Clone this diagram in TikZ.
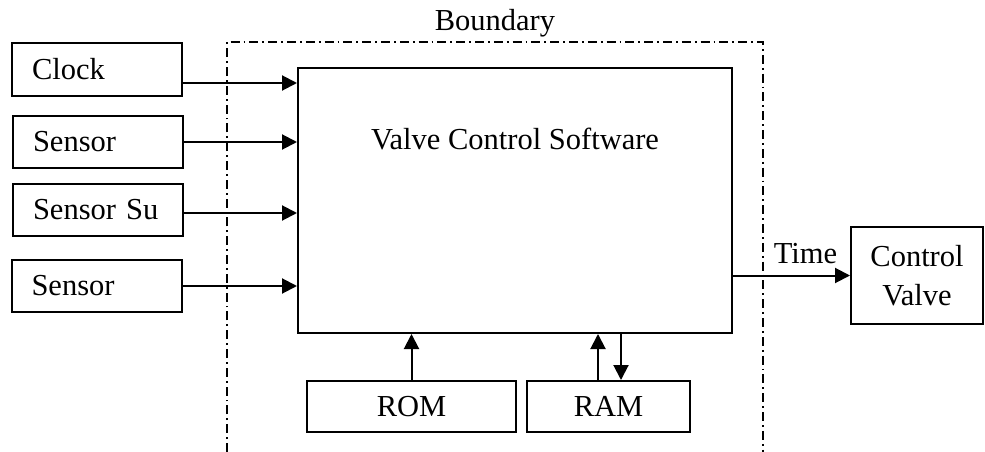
\documentclass[tikz,border=0pt]{standalone}
\usepackage{fontspec}
\setmainfont{Liberation Serif}
\usetikzlibrary{arrows.meta,calc}
\tikzset{
  blk/.style={draw, line width=2pt, rectangle, inner sep=0pt},
  srcbox/.style={blk, minimum width=170pt, minimum height=52pt,
                 text width=130pt, inner xsep=20pt, align=left},
  membox/.style={blk, minimum height=51pt},
  flow/.style={line width=2pt, -{Triangle[length=15pt,width=15pt]}},
  bound/.style={line width=1.7pt, dash pattern=on 9pt off 4pt on 1.8pt off 4pt},
}
\begin{document}
\begin{tikzpicture}[x=1pt,y=-1pt,font=\fontsize{30.5}{34}\selectfont]
\useasboundingbox (0,0) rectangle (985,452);

% system boundary (open at the bottom)
\draw[bound] (227,452) -- (227,42) -- (763,42) -- (763,452);
\node (bnd) at (495,23) {Boundary};

% software block
\node[blk, minimum width=434pt, minimum height=265pt] (sw) at (515,200.5) {};
\node (swlabel) at (515,139) {Valve Control Software};

% inputs
\node[srcbox] (clock) at (97,69.5) {Clock};
\node[srcbox] (sen1)  at (98,142) {Sensor};
\node[srcbox] (sensu) at (98,210) {Sensor Su};
\node[srcbox] (sen2)  at (96.5,286) {Sensor};

% memories
\node[membox, minimum width=209pt] (rom) at (411.5,406.5) {ROM};
\node[membox, minimum width=163pt] (ram) at (608.5,406.5) {RAM};

% actuator
\node[blk, minimum width=132pt, minimum height=97pt, align=center,
      font=\fontsize{30.5}{38.5}\selectfont] (cv) at (917,275.5) {Control\\Valve};

% input flows
\draw[flow] ([yshift=-13.5pt]clock.east) -- ([yshift=-13.5pt]clock.east -| sw.west);
\draw[flow] (sen1.east) -- (sen1.east -| sw.west);
\draw[flow] ([yshift=-3pt]sensu.east) -- ([yshift=-3pt]sensu.east -| sw.west);
\draw[flow] (sen2.east) -- (sen2.east -| sw.west);

% memory flows
\draw[flow] (rom.north) -- (rom.north |- sw.south);
\draw[flow] ([xshift=-10.5pt]ram.north) -- ([xshift=-10.5pt]ram.north |- sw.south);
\draw[flow] ([xshift=12.5pt]ram.north |- sw.south) -- ([xshift=12.5pt]ram.north);

% output flow
\draw[flow] (cv.west -| sw.east) -- node[above, pos=0.62, inner sep=0pt, yshift=11pt] (tm) {Time} (cv.west);
\end{tikzpicture}
\end{document}
